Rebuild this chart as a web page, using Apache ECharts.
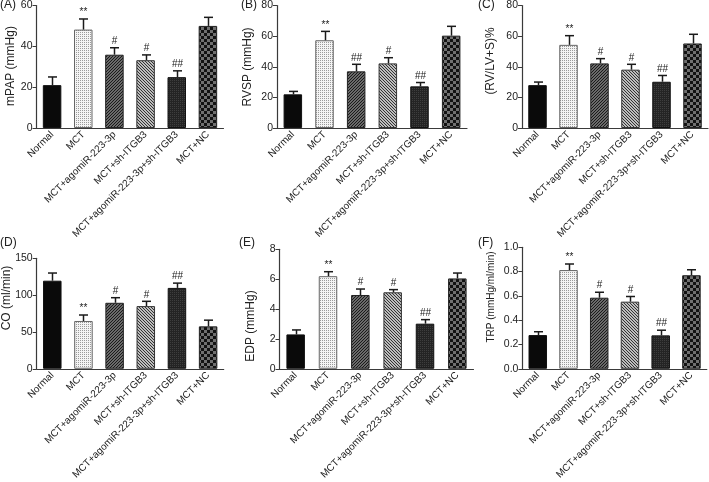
<!DOCTYPE html>
<html>
<head>
<meta charset="utf-8">
<script src="https://cdn.jsdelivr.net/npm/echarts@6/dist/echarts.min.js"></script>
<style>
html,body{margin:0;padding:0;background:#fff;}
#chart{width:709px;height:482px;}
</style>
</head>
<body>
<div id="chart"></div>
<script>
// ---- data ----
var categories = ['Normal', 'MCT', 'MCT+agomiR-223-3p', 'MCT+sh-ITGB3', 'MCT+agomiR-223-3p+sh-ITGB3', 'MCT+NC'];

var mPAP = [21, 48.2, 35.9, 33.2, 24.9, 50];
var mPAPSd = [4, 5.2, 3.4, 2.6, 3.1, 4.2];
var mPAPMarks = ['', '**', '#', '#', '##', ''];

var RVSP = [22, 57.3, 37, 42.2, 27.2, 60.3];
var RVSPSd = [1.9, 5.8, 4.6, 3.7, 2.5, 6.1];
var RVSPMarks = ['', '**', '##', '#', '##', ''];

var RVLV = [28, 54.3, 42.2, 38.1, 30.2, 55.2];
var RVLVSd = [2, 6, 3.1, 3.5, 4.1, 6];
var RVLVMarks = ['', '**', '#', '#', '##', ''];

var CO = [119.6, 64.9, 89.6, 85.1, 109.8, 57.6];
var COSd = [10.4, 8.1, 6.9, 6.5, 6.5, 8.4];
var COMarks = ['', '**', '#', '#', '##', ''];

var EDP = [2.3, 6.2, 4.94, 5.12, 3.02, 6.05];
var EDPSd = [0.3, 0.3, 0.4, 0.18, 0.27, 0.36];
var EDPMarks = ['', '**', '#', '#', '##', ''];

var TRP = [0.2775, 0.8125, 0.585, 0.5525, 0.275, 0.77];
var TRPSd = [0.0275, 0.05, 0.045, 0.0425, 0.0425, 0.045];
var TRPMarks = ['', '**', '#', '#', '##', ''];

var yTicksA = {min: 0, max: 60, interval: 20};
var yTicksB = {min: 0, max: 80, interval: 20};
var yTicksC = {min: 0, max: 80, interval: 20};
var yTicksD = {min: 0, max: 150, interval: 50};
var yTicksE = {min: 0, max: 8, interval: 2};
var yTicksF = {min: 0, max: 1.0, interval: 0.2};

var yTitles = ['mPAP (mmHg)', 'RVSP (mmHg)', '(RV/LV+S)%', 'CO (ml/min)', 'EDP (mmHg)', 'TRP (mmHg/ml/min)'];
var panelLetters = ['(A)', '(B)', '(C)', '(D)', '(E)', '(F)'];

// ---- patterns ----
function makePattern(type) {
  var c = document.createElement('canvas');
  var n, ctx;
  function px(x, y, col) { ctx.fillStyle = col; ctx.fillRect(x, y, 1, 1); }
  if (type === 'dots') {
    n = 2; c.width = c.height = n; ctx = c.getContext('2d');
    ctx.fillStyle = '#f4f4f4'; ctx.fillRect(0, 0, n, n);
    px(0, 0, '#9a9a9a');
  } else if (type === 'diagA') {
    n = 3; c.width = c.height = n; ctx = c.getContext('2d');
    ctx.fillStyle = '#6a6a6a'; ctx.fillRect(0, 0, n, n);
    for (var x = 0; x < n; x++) for (var y = 0; y < n; y++) if ((x + y) % n === 0) px(x, y, '#1a1a1a');
  } else if (type === 'diagB') {
    n = 3; c.width = c.height = n; ctx = c.getContext('2d');
    ctx.fillStyle = '#bdbdbd'; ctx.fillRect(0, 0, n, n);
    for (var x2 = 0; x2 < n; x2++) for (var y2 = 0; y2 < n; y2++) if ((x2 - y2 + n) % n === 0) px(x2, y2, '#333');
  } else if (type === 'dark') {
    n = 2; c.width = c.height = n; ctx = c.getContext('2d');
    ctx.fillStyle = '#242424'; ctx.fillRect(0, 0, n, n);
    px(0, 0, '#3e3e3e');
  } else if (type === 'checker') {
    n = 6; c.width = c.height = n; ctx = c.getContext('2d');
    ctx.fillStyle = '#121212'; ctx.fillRect(0, 0, n, n);
    ctx.fillStyle = '#707070'; ctx.fillRect(0, 0, 3, 3); ctx.fillRect(3, 3, 3, 3);
  }
  return {image: c, repeat: 'repeat'};
}
var barFills = ['#0a0a0a', makePattern('dots'), makePattern('diagA'), makePattern('diagB'), makePattern('dark'), makePattern('checker')];
var barBorders = ['#111', '#666', '#222', '#333', '#111', '#222'];

// ---- layout ----
var grids = [
  {left: 36.5, top: 4, width: 187, height: 124},
  {left: 277, top: 4, width: 190, height: 124},
  {left: 522, top: 4, width: 186, height: 124},
  {left: 36.7, top: 258.3, width: 187, height: 123.4},
  {left: 279.5, top: 249.3, width: 194, height: 132.4},
  {left: 522.4, top: 247.3, width: 184.4, height: 133.4}
];
var titlePos = [[11, 66], [248, 67], [491, 61], [7, 298], [251, 326], [491, 297]];
var titleSize = [12, 12, 12, 12, 12, 10];
var letterPos = [[0, 5], [241, 5], [478, 5], [0, 243], [239, 243], [478, 243]];

var panels = [
  {vals: mPAP, sd: mPAPSd, marks: mPAPMarks, ticks: yTicksA, dec: 0},
  {vals: RVSP, sd: RVSPSd, marks: RVSPMarks, ticks: yTicksB, dec: 0},
  {vals: RVLV, sd: RVLVSd, marks: RVLVMarks, ticks: yTicksC, dec: 0},
  {vals: CO, sd: COSd, marks: COMarks, ticks: yTicksD, dec: 0},
  {vals: EDP, sd: EDPSd, marks: EDPMarks, ticks: yTicksE, dec: 0},
  {vals: TRP, sd: TRPSd, marks: TRPMarks, ticks: yTicksF, dec: 1}
];

var FONT = '"Liberation Sans", Arial, Helvetica, sans-serif';
var axisCol = '#3a3a3a';

var xAxes = [], yAxes = [], series = [], graphics = [];
panels.forEach(function (p, k) {
  xAxes.push({
    type: 'category', gridIndex: k, data: categories,
    axisLine: {lineStyle: {color: axisCol, width: 1.2}},
    axisTick: {alignWithLabel: true, length: 4, lineStyle: {color: axisCol, width: 1}},
    axisLabel: {rotate: 45, fontSize: 10, color: '#222', fontFamily: FONT, margin: 5, interval: 0}
  });
  yAxes.push({
    type: 'value', gridIndex: k, min: p.ticks.min, max: p.ticks.max, interval: p.ticks.interval,
    splitLine: {show: false},
    axisLine: {show: true, lineStyle: {color: axisCol, width: 1.2}},
    axisTick: {show: true, length: 4, lineStyle: {color: axisCol, width: 1}},
    axisLabel: {fontSize: 10.5, color: '#222', fontFamily: FONT, margin: 4,
      formatter: (function (d) { return function (v) { return v.toFixed(d); }; })(p.dec)}
  });
  series.push({
    type: 'bar', xAxisIndex: k, yAxisIndex: k, barWidth: 18.5,
    data: p.vals.map(function (v, i) {
      return {value: v, itemStyle: {color: barFills[i], borderColor: barBorders[i], borderWidth: 1}};
    }),
    silent: true, animation: false
  });
  series.push({
    type: 'custom', xAxisIndex: k, yAxisIndex: k, z: 5, animation: false, silent: true,
    data: p.vals.map(function (v, i) { return [i, v, v + p.sd[i]]; }),
    renderItem: (function (pp) {
      return function (params, api) {
        var i = params.dataIndex;
        var base = api.coord([api.value(0), api.value(1)]);
        var top = api.coord([api.value(0), api.value(2)]);
        var x = Math.round(base[0]) + 0.5;
        var children = [
          {type: 'line', shape: {x1: x, y1: base[1], x2: x, y2: top[1]}, style: {stroke: '#1a1a1a', lineWidth: 1.5}},
          {type: 'line', shape: {x1: x - 4.5, y1: top[1], x2: x + 4.5, y2: top[1]}, style: {stroke: '#1a1a1a', lineWidth: 1.5}}
        ];
        if (pp.marks[i]) {
          children.push({type: 'text', x: x, y: top[1] - 1.5,
            style: {text: pp.marks[i], font: '10px ' + FONT, fill: '#222', textAlign: 'center', textVerticalAlign: 'bottom'}});
        }
        return {type: 'group', children: children};
      };
    })(p)
  });
  graphics.push({
    type: 'text', x: titlePos[k][0], y: titlePos[k][1], rotation: Math.PI / 2,
    style: {text: yTitles[k], font: titleSize[k] + 'px ' + FONT, fill: '#222', textAlign: 'center', textVerticalAlign: 'middle'}
  });
  graphics.push({
    type: 'text', x: letterPos[k][0], y: letterPos[k][1],
    style: {text: panelLetters[k], font: '12px ' + FONT, fill: '#222', textAlign: 'left', textVerticalAlign: 'middle'}
  });
});

var chart = echarts.init(document.getElementById('chart'), null, {renderer: 'canvas'});
chart.setOption({
  backgroundColor: '#fff',
  animation: false,
  grid: grids,
  xAxis: xAxes,
  yAxis: yAxes,
  series: series,
  graphic: graphics
});
</script>
</body>
</html>
